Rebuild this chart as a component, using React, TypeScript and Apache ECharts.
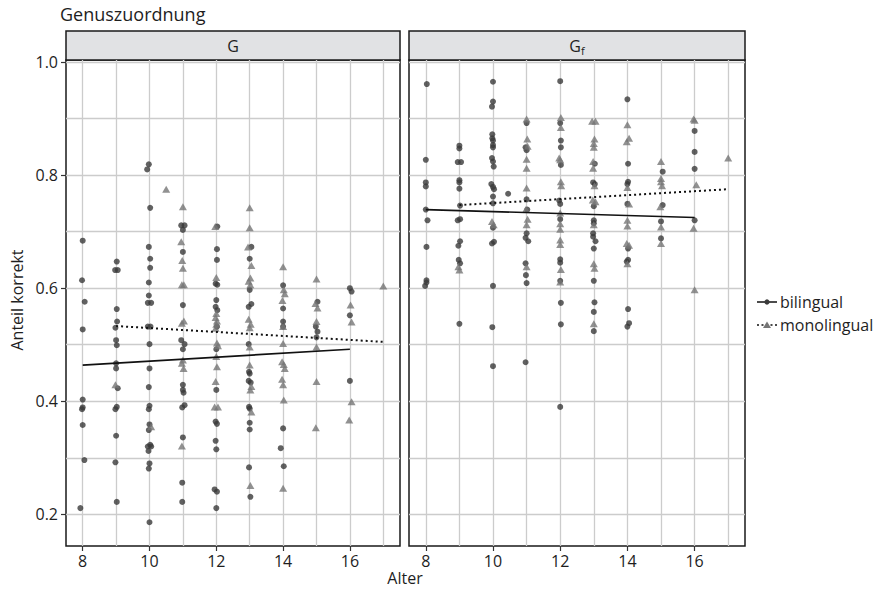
import React, { useEffect, useRef } from "react";
import * as echarts from "echarts";

// ---------- data ----------
const panelNames = ["G", "Gf"];
const groupNames = ["bilingual", "monolingual"];
const xTickValues = [8, 10, 12, 14, 16];
const xGridValues = [8, 9, 10, 11, 12, 13, 14, 15, 16, 17];
const yTickValues = [0.2, 0.4, 0.6, 0.8, 1.0];
const yGridValues = [0.2, 0.3, 0.4, 0.5, 0.6, 0.7, 0.8, 0.9, 1.0];

// Panel G
const gBilingual: number[][] = [
  [8, 0.684], [7.98, 0.614], [8.06, 0.576], [8, 0.527], [8, 0.403], [8, 0.389], [7.98, 0.386], [8, 0.358], [8.05, 0.296], [7.93, 0.211],
  [9.02, 0.647], [8.97, 0.632], [9.05, 0.632], [9.02, 0.563], [9.03, 0.541], [8.98, 0.53], [9, 0.508], [9.02, 0.499], [9, 0.467], [9, 0.458], [9.05, 0.423], [9.02, 0.39], [8.98, 0.386], [9, 0.339], [8.98, 0.292], [9.02, 0.222],
  [9.98, 0.819], [9.93, 0.81], [10.02, 0.742], [9.98, 0.673], [10.02, 0.652], [10.02, 0.636], [9.98, 0.61], [9.98, 0.587], [9.95, 0.574], [10.05, 0.574], [9.95, 0.532], [10.03, 0.532], [10, 0.501], [10, 0.458], [9.98, 0.425], [10, 0.392], [9.98, 0.386], [10, 0.359], [9.98, 0.349], [10.02, 0.323], [9.95, 0.32], [10.05, 0.32], [9.97, 0.312], [10, 0.29], [9.98, 0.281], [10, 0.186],
  [10.95, 0.711], [11.05, 0.711], [11, 0.703], [11, 0.664], [11, 0.57], [10.95, 0.508], [11.05, 0.501], [11, 0.492], [11, 0.429], [11, 0.42], [11.02, 0.415], [11.05, 0.393], [10.98, 0.389], [11, 0.336], [10.98, 0.256], [10.98, 0.222],
  [12.03, 0.709], [12.02, 0.669], [12.02, 0.65], [11.98, 0.608], [12.03, 0.606], [12, 0.579], [11.98, 0.567], [12.03, 0.561], [12.02, 0.532], [12, 0.492], [12, 0.42], [11.98, 0.364], [12.02, 0.36], [11.98, 0.33], [12, 0.315], [11.95, 0.244], [12.02, 0.24], [12, 0.211],
  [13.05, 0.673], [13, 0.652], [13, 0.597], [13.05, 0.572], [12.97, 0.567], [12.97, 0.501], [12.98, 0.452], [13, 0.449], [12.97, 0.436], [13.03, 0.433], [12.98, 0.39], [13, 0.387], [13, 0.362], [13, 0.35], [12.98, 0.283], [13.02, 0.231],
  [14, 0.605], [14, 0.564], [14, 0.541], [14, 0.532], [14, 0.352], [13.93, 0.317], [14.02, 0.285],
  [15.03, 0.576], [14.98, 0.532], [15.03, 0.523], [15, 0.513],
  [16, 0.6], [16.05, 0.594], [16, 0.552], [16, 0.436],
];
const gMonolingual: number[][] = [
  [8.98, 0.429],
  [10.05, 0.355], [10.5, 0.775],
  [11, 0.744], [10.95, 0.682], [10.98, 0.649], [11, 0.635], [10.97, 0.606], [11.03, 0.606], [10.97, 0.538], [11.03, 0.542], [11, 0.473], [10.97, 0.467], [11.02, 0.458], [10.97, 0.321],
  [11.97, 0.709], [12, 0.619], [12, 0.555], [11.98, 0.548], [12.02, 0.542], [12, 0.536], [11.98, 0.529], [12.02, 0.503], [12.05, 0.498], [12, 0.479], [12.02, 0.461], [11.98, 0.435], [11.95, 0.39], [12.05, 0.39],
  [13, 0.742], [13, 0.707], [12.95, 0.673], [13.05, 0.64], [13.02, 0.618], [12.97, 0.612], [13.02, 0.606], [12.97, 0.545], [13.03, 0.536], [13, 0.53], [13, 0.496], [13, 0.464], [13.05, 0.426], [13.02, 0.42], [13.05, 0.381], [13.02, 0.251],
  [14, 0.638], [14.02, 0.597], [14.05, 0.59], [13.98, 0.578], [14, 0.532], [14, 0.502], [13.97, 0.47], [14.02, 0.465], [14.05, 0.458], [13.97, 0.439], [14, 0.429], [14.02, 0.402], [14, 0.246],
  [15, 0.616], [14.97, 0.573], [15.03, 0.565], [15, 0.541], [15, 0.496], [15, 0.435], [14.98, 0.353],
  [16.02, 0.57], [16.05, 0.54], [16.05, 0.399], [15.98, 0.367],
  [17, 0.604],
];
const gFitBilingual: number[][] = [[8, 0.464], [16, 0.492]];
const gFitMonolingual: number[][] = [[9, 0.533], [17, 0.505]];

// Panel Gf
const gfBilingual: number[][] = [
  [8.03, 0.961], [8, 0.827], [8, 0.787], [8, 0.78], [8, 0.739], [8.05, 0.72], [8.02, 0.673], [8.02, 0.614], [8.02, 0.61], [7.98, 0.604],
  [9, 0.852], [9, 0.847], [8.95, 0.823], [9.05, 0.823], [9, 0.791], [9, 0.787], [9, 0.776], [9.02, 0.746], [8.95, 0.72], [9.02, 0.722], [9.02, 0.683], [8.97, 0.675], [8.98, 0.65], [9.02, 0.644], [9, 0.537],
  [10, 0.965], [10, 0.93], [9.97, 0.921], [9.98, 0.872], [9.98, 0.865], [10, 0.861], [10, 0.853], [10, 0.849], [9.97, 0.83], [10, 0.824], [10.02, 0.815], [9.95, 0.784], [10, 0.779], [10.03, 0.775], [10, 0.762], [10, 0.75], [10, 0.707], [10.03, 0.682], [9.97, 0.679], [10, 0.604], [9.98, 0.531], [10, 0.462], [10.45, 0.767],
  [11, 0.892], [10.97, 0.849], [11, 0.844], [11, 0.757], [11.02, 0.739], [11, 0.697], [10.97, 0.689], [11.05, 0.683], [10.97, 0.644], [10.98, 0.623], [11, 0.609], [10.97, 0.469],
  [12, 0.966], [12, 0.892], [12.02, 0.861], [12.02, 0.849], [12.02, 0.818], [11.97, 0.755], [12, 0.749], [12, 0.722], [12, 0.651], [12, 0.645], [12, 0.613], [12.02, 0.574], [12.02, 0.536], [12, 0.39],
  [13.03, 0.82], [12.98, 0.787], [13.03, 0.784], [13, 0.745], [13, 0.72], [13, 0.715], [12.98, 0.697], [12.98, 0.691], [13.05, 0.683], [13, 0.67], [13, 0.613], [13.02, 0.575], [13, 0.558], [13, 0.524],
  [14, 0.934], [14.02, 0.82], [14.02, 0.788], [14, 0.784], [14, 0.749], [14.02, 0.67], [14.02, 0.65], [13.98, 0.647], [14.02, 0.563], [14.05, 0.538], [14, 0.532],
  [15.05, 0.806], [15.05, 0.747], [15, 0.718], [15, 0.688],
  [16, 0.878], [16, 0.841], [16, 0.811], [16, 0.72],
];
const gfMonolingual: number[][] = [
  [8.97, 0.638], [9, 0.632],
  [9.97, 0.718], [10.02, 0.712],
  [11, 0.899], [11.02, 0.864], [11.03, 0.851], [11, 0.828], [11, 0.812], [11, 0.777], [10.98, 0.739], [11.03, 0.722], [11, 0.712], [11, 0.638],
  [12.02, 0.902], [12.02, 0.884], [11.97, 0.83], [12, 0.827], [12.02, 0.788], [12.03, 0.781], [12, 0.733], [12, 0.714], [12, 0.704], [12, 0.685], [12, 0.677], [12.02, 0.633], [12, 0.611],
  [12.95, 0.895], [13.05, 0.895], [13.02, 0.864], [13, 0.856], [13, 0.849], [12.98, 0.824], [12.98, 0.812], [13.02, 0.781], [12.97, 0.756], [13.05, 0.753], [13, 0.712], [13, 0.643], [13.02, 0.635], [13, 0.537],
  [14, 0.889], [14.05, 0.865], [13.98, 0.859], [14, 0.778], [14.05, 0.749], [14, 0.72], [14, 0.71], [13.98, 0.679], [14.05, 0.676], [14, 0.643],
  [15, 0.824], [15, 0.794], [15, 0.788], [15.03, 0.781], [14.98, 0.744], [15, 0.708], [15, 0.679],
  [15.97, 0.899], [16, 0.897], [16.05, 0.783], [15.97, 0.706], [16, 0.597],
  [17, 0.83],
];
const gfFitBilingual: number[][] = [[8, 0.739], [16, 0.725]];
const gfFitMonolingual: number[][] = [[9, 0.747], [17, 0.775]];

// ---------- styling ----------
const FONT = "'Open Sans', 'Noto Sans', sans-serif";
const TEXT = "#1e1e1e";
const BI_COLOR = "#3a3a3a";
const MONO_COLOR = "#757575";
const GRID_COLOR = "#cccccc";
const FRAME = "#1a1a1a";
const X_MIN = 7.5;
const X_MAX = 17.5;
const Y_MIN = 0.144;
const Y_MAX = 1.0035;

const panelBoxes = [
  { left: 66, top: 60, width: 334, height: 486 },
  { left: 409, top: 60, width: 336, height: 486 },
];

function buildOption() {
  const scatterData = [
    [gBilingual, gMonolingual],
    [gfBilingual, gfMonolingual],
  ];
  const fitData = [
    [gFitBilingual, gFitMonolingual],
    [gfFitBilingual, gfFitMonolingual],
  ];

  const grid = panelBoxes.map((b) => ({
    ...b,
    show: true,
    backgroundColor: "#ffffff",
    borderColor: FRAME,
    borderWidth: 1.5,
    containLabel: false,
  }));

  const xAxis: any[] = [];
  const yAxis: any[] = [];
  panelBoxes.forEach((_, i) => {
    xAxis.push({
      type: "value",
      gridIndex: i,
      min: X_MIN,
      max: X_MAX,
      position: "bottom",
      axisLine: { show: false },
      axisTick: { show: true, customValues: xTickValues, length: 5, lineStyle: { color: "#333", width: 1.2 } },
      axisLabel: { customValues: xTickValues, fontSize: 16, color: TEXT, margin: 7, fontFamily: FONT },
      splitLine: { show: false },
    });
    xAxis.push({
      type: "value",
      gridIndex: i,
      min: X_MIN,
      max: X_MAX,
      position: "bottom",
      axisLine: { show: false },
      axisTick: { show: false, customValues: xGridValues },
      axisLabel: { show: false },
      splitLine: { show: true, lineStyle: { color: GRID_COLOR, width: 1.3 } },
    });
    yAxis.push({
      type: "value",
      gridIndex: i,
      min: Y_MIN,
      max: Y_MAX,
      position: "left",
      axisLine: { show: false },
      axisTick: { show: i === 0, customValues: yTickValues, length: 5, lineStyle: { color: "#333", width: 1.2 } },
      axisLabel: {
        show: i === 0,
        customValues: yTickValues,
        fontSize: 16,
        color: TEXT,
        margin: 8,
        fontFamily: FONT,
        formatter: (v: number) => v.toFixed(1),
      },
      splitLine: { show: false },
    });
    yAxis.push({
      type: "value",
      gridIndex: i,
      min: Y_MIN,
      max: Y_MAX,
      position: "left",
      axisLine: { show: false },
      axisTick: { show: false, customValues: yGridValues },
      axisLabel: { show: false },
      splitLine: { show: true, lineStyle: { color: GRID_COLOR, width: 1.3 } },
    });
  });

  const series: any[] = [];
  panelBoxes.forEach((_, i) => {
    const xi = i * 2;
    const yi = i * 2;
    series.push({
      name: groupNames[0],
      type: "scatter",
      xAxisIndex: xi,
      yAxisIndex: yi,
      symbol: "circle",
      symbolSize: 6,
      itemStyle: { color: BI_COLOR },
      data: scatterData[i][0],
      z: 2,
    });
    series.push({
      name: groupNames[1],
      type: "scatter",
      xAxisIndex: xi,
      yAxisIndex: yi,
      symbol: "triangle",
      symbolSize: [8, 7],
      itemStyle: { color: MONO_COLOR },
      data: scatterData[i][1],
      z: 2,
    });
    series.push({
      name: groupNames[0] + " fit",
      type: "line",
      xAxisIndex: xi,
      yAxisIndex: yi,
      showSymbol: false,
      symbol: "none",
      lineStyle: { color: "#111", width: 1.7, type: "solid" },
      data: fitData[i][0],
      z: 4,
    });
    series.push({
      name: groupNames[1] + " fit",
      type: "line",
      xAxisIndex: xi,
      yAxisIndex: yi,
      showSymbol: false,
      symbol: "none",
      lineStyle: { color: "#111", width: 2, type: [2, 3] },
      data: fitData[i][1],
      z: 4,
    });
  });

  const stripTop = 31;
  const stripH = 29;
  const graphic: any[] = [
    {
      type: "text",
      x: 60,
      y: 14,
      style: { text: "Genuszuordnung", fontSize: 18, fontFamily: FONT, fill: TEXT, textAlign: "left", textVerticalAlign: "middle" },
    },
    {
      type: "text",
      x: 405,
      y: 578,
      style: { text: "Alter", fontSize: 16, fontFamily: FONT, fill: TEXT, textAlign: "center", textVerticalAlign: "middle" },
    },
    {
      type: "text",
      x: 17,
      y: 300,
      rotation: Math.PI / 2,
      style: { text: "Anteil korrekt", fontSize: 16, fontFamily: FONT, fill: TEXT, textAlign: "center", textVerticalAlign: "middle" },
    },
  ];
  panelBoxes.forEach((b, i) => {
    graphic.push({
      type: "rect",
      shape: { x: b.left, y: stripTop, width: b.width, height: stripH },
      style: { fill: "#e1e2e4", stroke: FRAME, lineWidth: 1.5 },
    });
    graphic.push({
      type: "text",
      x: b.left + b.width / 2,
      y: stripTop + stripH / 2,
      style:
        i === 0
          ? { text: panelNames[0], fontSize: 16, fontFamily: FONT, fill: TEXT, textAlign: "center", textVerticalAlign: "middle" }
          : {
              text: "{m|G}{s|f}",
              fontFamily: FONT,
              fill: TEXT,
              textAlign: "center",
              textVerticalAlign: "middle",
              rich: {
                m: { fontSize: 16, fontFamily: FONT, fill: TEXT },
                s: { fontSize: 11, fontFamily: FONT, fill: TEXT, padding: [9, 0, 0, 0] },
              },
            },
    });
  });

  // legend
  const lx0 = 757;
  const lx1 = 777;
  const ly = [302, 325];
  graphic.push(
    { type: "line", shape: { x1: lx0, y1: ly[0], x2: lx1, y2: ly[0] }, style: { stroke: "#111", lineWidth: 1.5 } },
    { type: "circle", shape: { cx: (lx0 + lx1) / 2, cy: ly[0], r: 2.6 }, style: { fill: BI_COLOR } },
    { type: "line", shape: { x1: lx0, y1: ly[1], x2: lx1, y2: ly[1] }, style: { stroke: "#111", lineWidth: 1.5, lineDash: [2, 2.5] } },
    {
      type: "polygon",
      shape: { points: [[767, ly[1] - 3.5], [771, ly[1] + 3], [763, ly[1] + 3]] },
      style: { fill: MONO_COLOR },
    },
    {
      type: "text",
      x: 780,
      y: ly[0],
      style: { text: groupNames[0], fontSize: 16, fontFamily: FONT, fill: TEXT, textAlign: "left", textVerticalAlign: "middle" },
    },
    {
      type: "text",
      x: 780,
      y: ly[1],
      style: { text: groupNames[1], fontSize: 16, fontFamily: FONT, fill: TEXT, textAlign: "left", textVerticalAlign: "middle" },
    }
  );

  return {
    animation: false,
    backgroundColor: "#ffffff",
    textStyle: { fontFamily: FONT },
    grid,
    xAxis,
    yAxis,
    series,
    graphic,
  };
}

export default function App() {
  const ref = useRef<HTMLDivElement>(null);
  useEffect(() => {
    if (!ref.current) return;
    const chart = echarts.init(ref.current, undefined, { renderer: "svg" });
    chart.setOption(buildOption() as any);
    return () => chart.dispose();
  }, []);
  return (
    <div
      ref={ref}
      style={{ position: "fixed", left: 0, top: 0, width: 877, height: 589, background: "#fff" }}
    />
  );
}
